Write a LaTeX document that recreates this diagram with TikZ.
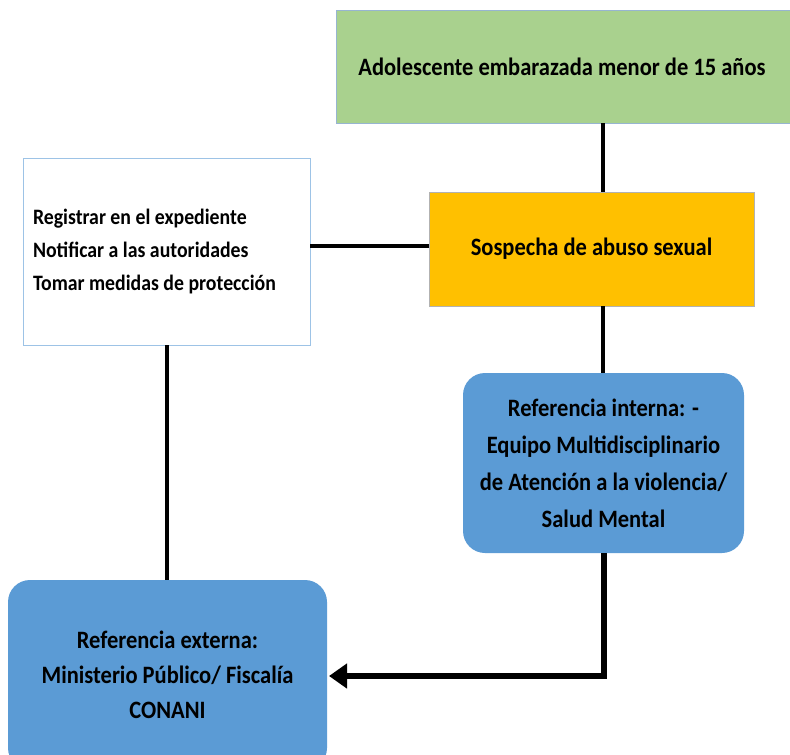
\documentclass[tikz,border=0pt]{standalone}
\usepackage{fontspec}
\setmainfont[FakeStretch=0.9]{Carlito}
\usetikzlibrary{arrows.meta}
\definecolor{cgreen}{HTML}{A9D18E}
\definecolor{corange}{HTML}{FFC000}
\definecolor{cblue}{HTML}{5B9BD5}
\definecolor{cborder}{HTML}{9DC3E6}
\begin{document}
\begin{tikzpicture}[x=1pt,y=-1pt,
  box/.style={inner sep=0pt, outer sep=0pt, font=\bfseries\fontsize{25}{37}\selectfont, align=center},
  conn/.style={line width=4pt, black}]
\useasboundingbox (0,0) rectangle (790,755);
\node[box, draw=cborder!80!gray, line width=0.8pt, fill=cgreen, minimum width=454pt, minimum height=113pt, anchor=north west] (green) at (336,10) {};
\node[box] at ([xshift=-1pt]green.center) {Adolescente embarazada menor de 15 años};
\node[box, draw=gray!60, line width=0.6pt, fill=corange, minimum width=325pt, minimum height=114pt, anchor=north west] (orange) at (429,192) {Sospecha de abuso sexual};
\node[box, draw=cborder, line width=0.8pt, fill=white, minimum width=287pt, minimum height=187pt, anchor=north west] (white) at (23,158) {};
\node[box, font=\bfseries\fontsize{22}{33}\selectfont, align=left, anchor=west] (wtext) at (33,252) {Registrar en el expediente\\Notificar a las autoridades\\Tomar medidas de protección};
\node[box, draw=none, fill=cblue, rounded corners=22pt, minimum width=281pt, minimum height=180pt, anchor=north west] (blue1) at (463,373) {Referencia interna: -\\Equipo Multidisciplinario\\de Atención a la violencia/\\Salud Mental};
\node[box, font=\bfseries\fontsize{25}{35}\selectfont, draw=none, fill=cblue, rounded corners=22pt, minimum width=319pt, minimum height=190pt, anchor=north west] (blue2) at (8,580) {Referencia externa:\\Ministerio Público/ Fiscalía\\CONANI};
\coordinate (corner) at (604,676);
\draw[conn] (green.south -| 603,0) -- (orange.north -| 603,0);
\draw[conn] (orange.west |- 0,246) -- (white.east |- 0,246);
\draw[conn] (orange.south -| 603,0) -- (blue1.north -| 603,0);
\draw[conn] (white.south -| 167,0) -- (blue2.north -| 167,0);
\draw[conn, line width=5.5pt, -{Triangle[length=18pt,width=24pt]}] (blue1.south -| corner) -- (corner) -- ([xshift=2pt]blue2.east |- corner);
\end{tikzpicture}
\end{document}
